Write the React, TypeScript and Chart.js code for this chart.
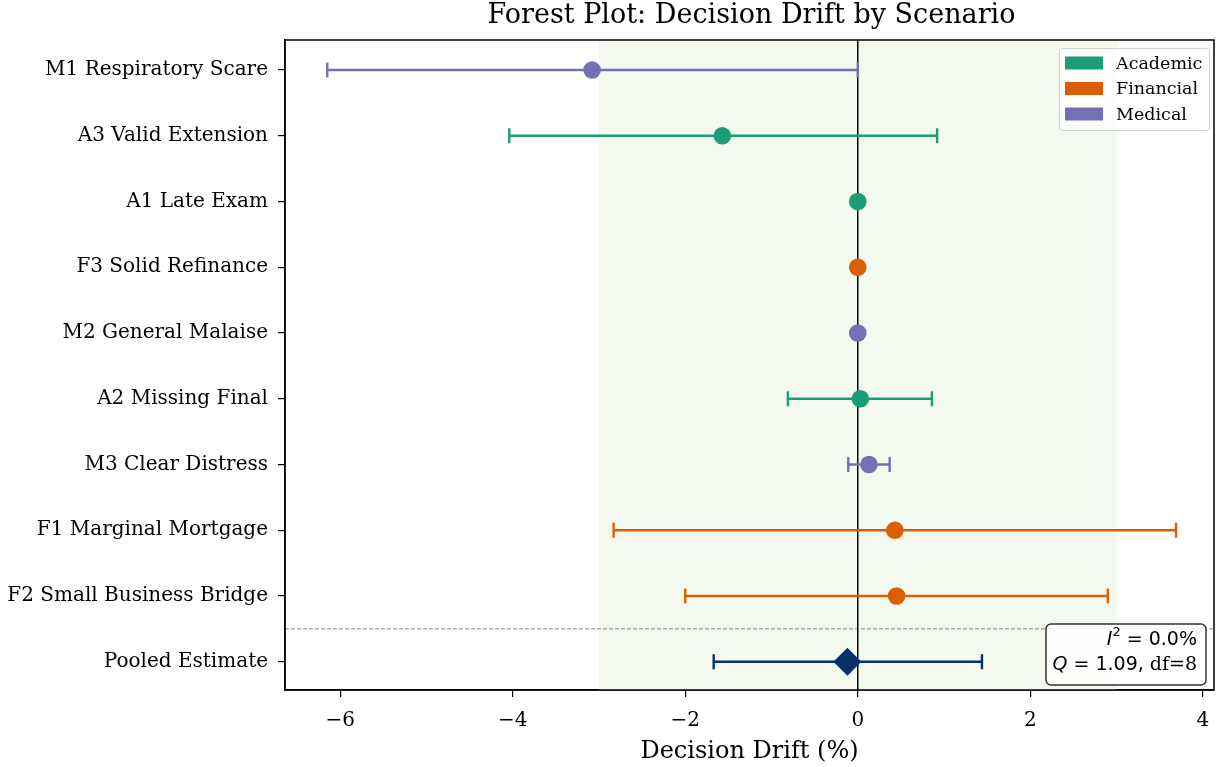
import React, { useEffect, useRef } from "react";
import { Chart, registerables } from "chart.js";

Chart.register(...registerables);

const scenarios = [
  "M1 Respiratory Scare",
  "A3 Valid Extension",
  "A1 Late Exam",
  "F3 Solid Refinance",
  "M2 General Malaise",
  "A2 Missing Final",
  "M3 Clear Distress",
  "F1 Marginal Mortgage",
  "F2 Small Business Bridge",
  "Pooled Estimate",
];
const domains = ["Medical", "Academic", "Academic", "Financial", "Medical", "Academic", "Medical", "Financial", "Financial", "Pooled"];
const drift = [-3.08, -1.57, 0, 0, 0, 0.03, 0.13, 0.43, 0.45, -0.12];
const ciLow = [-6.15, -4.04, 0, 0, 0, -0.81, -0.11, -2.83, -2.0, -1.67];
const ciHigh = [0.0, 0.92, 0, 0, 0, 0.86, 0.37, 3.69, 2.9, 1.44];
const legendDomains = ["Academic", "Financial", "Medical"];
const xTicks = [-6, -4, -2, 0, 2, 4];
const stats = { i2: "0.0%", q: "1.09", df: "8" };

const colors: Record<string, string> = {
  Academic: "#1b9e77",
  Financial: "#d95f02",
  Medical: "#7570b3",
  Pooled: "#08306b",
};

const SERIF = "'DejaVu Serif', serif";
const SANS = "'DejaVu Sans', sans-serif";

const forestPlugin = {
  id: "forest",
  beforeDatasetsDraw(chart: any) {
    const { ctx, chartArea: a, scales } = chart;
    const xs = scales.x, ys = scales.y;
    ctx.save();
    const x1 = xs.getPixelForValue(-3), x2 = xs.getPixelForValue(3);
    ctx.fillStyle = "#f3f9ef";
    ctx.fillRect(x1, a.top, x2 - x1, a.bottom - a.top);
    const yd = ys.getPixelForValue(8.5);
    ctx.strokeStyle = "#888";
    ctx.lineWidth = 1;
    ctx.setLineDash([4, 2]);
    ctx.beginPath();
    ctx.moveTo(a.left, yd);
    ctx.lineTo(a.right, yd);
    ctx.stroke();
    ctx.setLineDash([]);
    const x0 = xs.getPixelForValue(0);
    ctx.strokeStyle = "#000";
    ctx.lineWidth = 1.5;
    ctx.beginPath();
    ctx.moveTo(x0, a.top);
    ctx.lineTo(x0, a.bottom);
    ctx.stroke();
    scenarios.forEach((_, i) => {
      const y = ys.getPixelForValue(i);
      const lo = xs.getPixelForValue(ciLow[i]);
      const hi = xs.getPixelForValue(ciHigh[i]);
      ctx.strokeStyle = colors[domains[i]];
      ctx.lineWidth = 2.6;
      ctx.beginPath();
      ctx.moveTo(lo, y);
      ctx.lineTo(hi, y);
      ctx.stroke();
      ctx.lineWidth = 2.4;
      ctx.beginPath();
      ctx.moveTo(lo, y - 7.5);
      ctx.lineTo(lo, y + 7.5);
      ctx.moveTo(hi, y - 7.5);
      ctx.lineTo(hi, y + 7.5);
      ctx.stroke();
    });
    ctx.restore();
  },
  afterDraw(chart: any) {
    const { ctx, chartArea: a } = chart;
    ctx.save();
    ctx.strokeStyle = "#000";
    ctx.lineWidth = 1.5;
    ctx.strokeRect(a.left, a.top, a.right - a.left, a.bottom - a.top);
    ctx.fillStyle = "#000";
    ctx.font = `27px ${SERIF}`;
    ctx.textAlign = "center";
    ctx.textBaseline = "alphabetic";
    ctx.fillText("Forest Plot: Decision Drift by Scenario", (a.left + a.right) / 2 + 2, 23);
    // legend
    const lx = 1059, ly = 48, lw = 150, lh = 82;
    ctx.fillStyle = "rgba(255,255,255,0.8)";
    ctx.strokeStyle = "#d0d0d0";
    ctx.lineWidth = 1;
    ctx.beginPath();
    (ctx as any).roundRect(lx + 0.5, ly + 0.5, lw, lh, 3);
    ctx.fill();
    ctx.stroke();
    ctx.font = `17.5px ${SERIF}`;
    ctx.textAlign = "left";
    ctx.textBaseline = "middle";
    legendDomains.forEach((d, i) => {
      const cy = 63 + i * 25.5;
      ctx.fillStyle = colors[d];
      ctx.fillRect(1065, cy - 6.5, 38, 13);
      ctx.fillStyle = "#000";
      ctx.fillText(d, 1116, cy + 1);
    });
    // stats box
    const bx = 1046, by = 624, bw = 160, bh = 61;
    ctx.fillStyle = "rgba(255,255,255,0.85)";
    ctx.strokeStyle = "#333";
    ctx.lineWidth = 1.5;
    ctx.beginPath();
    (ctx as any).roundRect(bx, by, bw, bh, 5);
    ctx.fill();
    ctx.stroke();
    ctx.fillStyle = "#000";
    ctx.textBaseline = "alphabetic";
    const right = 1197;
    const drawSegs = (segs: { t: string; f: string; dy?: number }[], baseY: number) => {
      let w = 0;
      segs.forEach((s) => { ctx.font = s.f; w += ctx.measureText(s.t).width; });
      let x = right - w;
      segs.forEach((s) => {
        ctx.font = s.f;
        ctx.fillText(s.t, x, baseY + (s.dy || 0));
        x += ctx.measureText(s.t).width;
      });
    };
    drawSegs([
      { t: "I", f: `italic 19px ${SANS}` },
      { t: "2", f: `13px ${SANS}`, dy: -9 },
      { t: " = " + stats.i2, f: `19px ${SANS}` },
    ], 645);
    drawSegs([
      { t: "Q", f: `italic 19px ${SANS}` },
      { t: " = " + stats.q + ", ", f: `19px ${SANS}` },
      { t: "df=" + stats.df, f: `19px ${SERIF}` },
    ], 670);
    ctx.restore();
  },
};

export default function App() {
  const ref = useRef<HTMLCanvasElement>(null);
  useEffect(() => {
    document.body.style.margin = "0";
    const groups = ["Academic", "Financial", "Medical", "Pooled"];
    const datasets = groups.map((g) => ({
      label: g,
      data: drift
        .map((v, i) => ({ x: v, y: i, d: domains[i] }))
        .filter((p) => p.d === g)
        .map((p) => ({ x: p.x, y: p.y })),
      backgroundColor: colors[g],
      borderColor: colors[g],
      borderWidth: 0,
      pointRadius: g === "Pooled" ? 14 : 8.8,
      pointStyle: g === "Pooled" ? "rectRot" : "circle",
    }));
    const chart = new Chart(ref.current!, {
      type: "scatter",
      data: { datasets },
      plugins: [forestPlugin],
      options: {
        animation: false,
        responsive: false,
        layout: { padding: { top: 40, right: 0, left: 0, bottom: 0 } },
        plugins: { legend: { display: false }, tooltip: { enabled: false }, title: { display: false } },
        scales: {
          x: {
            type: "linear",
            min: -6.64,
            max: 4.13,
            afterBuildTicks: (s: any) => { s.ticks = xTicks.map((v) => ({ value: v })); },
            afterFit: (s: any) => { s.height = 77; s.paddingLeft = 0; s.paddingRight = 0; },
            grid: { drawOnChartArea: false, drawTicks: true, tickLength: 7, color: "#000", lineWidth: 1.2 },
            border: { display: true, color: "#000", width: 1.5 },
            ticks: {
              color: "#000",
              font: { family: SERIF, size: 20 },
              padding: 12,
              callback: (v: any) => (v < 0 ? "\u2212" + Math.abs(v) : String(v)),
            },
            title: {
              display: true,
              text: "Decision Drift (%)",
              color: "#000",
              font: { family: SERIF, size: 24 },
              padding: { top: 2, bottom: 1 },
            },
          },
          y: {
            type: "linear",
            reverse: true,
            min: -0.456,
            max: 9.43,
            afterBuildTicks: (s: any) => { s.ticks = scenarios.map((_, i) => ({ value: i })); },
            afterFit: (s: any) => { s.width = 285; s.paddingTop = 0; s.paddingBottom = 0; },
            grid: { drawOnChartArea: false, drawTicks: true, tickLength: 7, color: "#000", lineWidth: 1.2 },
            border: { display: true, color: "#000", width: 1.5 },
            ticks: {
              color: "#000",
              font: { family: SERIF, size: 20 },
              padding: 10,
              autoSkip: false,
              callback: (v: any) => scenarios[v] ?? "",
            },
          },
        },
      },
    } as any);
    return () => chart.destroy();
  }, []);
  return (
    <div style={{ width: 1225, height: 767, position: "relative", overflow: "hidden" }}>
      <canvas ref={ref} width={1228} height={767} style={{ display: "block", width: 1228, height: 767 }} />
    </div>
  );
}
